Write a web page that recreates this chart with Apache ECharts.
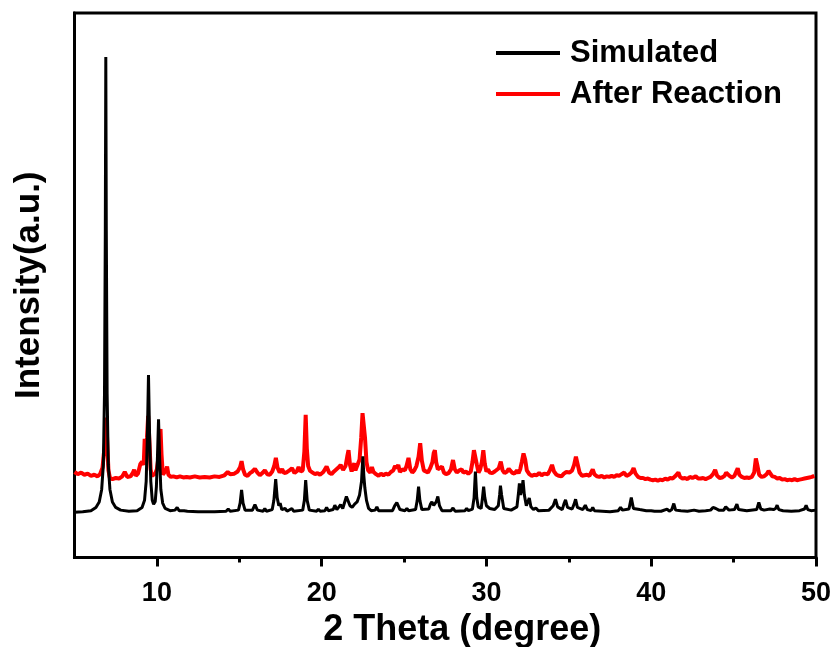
<!DOCTYPE html>
<html><head><meta charset="utf-8">
<script src="https://cdn.jsdelivr.net/npm/echarts@6/dist/echarts.min.js"></script>
<style>html,body{margin:0;padding:0;background:#fff}#c{width:837px;height:647px}</style>
</head><body><div id="c"></div>
<script>
// ---- data (2θ, intensity a.u.) ----
const xTickLabels = [10, 20, 30, 40, 50];
const xMinorTicks = [15, 25, 35, 45];
const seriesNames = ['Simulated', 'After Reaction'];

const simulated = [
[5.0,8.3],[5.5,8.4],[6.0,8.6],[6.3,9.2],[6.5,10.2],[6.65,12.5],[6.75,17],[6.82,30],[6.87,60],[6.9,91.9],[6.93,60],[6.98,30],[7.05,17],[7.15,12.5],[7.3,10.2],[7.5,9.2],[7.8,8.7],[8.3,8.5],[8.8,8.6],[9.1,9.2],[9.25,10.5],[9.35,14],[9.42,22],[9.49,33.5],[9.56,22],[9.63,14],[9.72,10.5],[9.8,9.8],[9.9,10.3],[9.97,13],[10.03,18],[10.1,25.4],[10.17,18],[10.24,12.5],[10.35,10],[10.5,9.0],[10.8,8.6],[11.1,8.7],[11.23,9.2],[11.35,8.6],[11.65,8.6],[11.75,8.8],[11.85,8.5],[12.5,8.4],[13.5,8.4],[14.2,8.5],[14.33,8.9],[14.45,8.5],[14.95,8.7],[15.05,10],[15.14,12.4],[15.23,10],[15.35,8.7],[15.8,8.7],[15.95,9.7],[16.1,8.7],[16.45,8.5],[16.55,9.0],[16.65,8.5],[17.0,8.8],[17.1,10.5],[17.21,14.4],[17.3,11],[17.4,9.5],[17.48,10],[17.58,8.8],[17.78,9.0],[17.9,8.5],[18.19,9.0],[18.3,8.5],[18.85,8.7],[18.95,10.5],[19.03,14.2],[19.12,10.5],[19.25,8.7],[19.7,8.5],[19.8,8.9],[19.9,8.5],[20.2,8.6],[20.3,9.2],[20.4,8.6],[20.7,8.8],[20.8,9.6],[20.92,8.8],[21.05,9.3],[21.15,9.7],[21.28,9.0],[21.4,10.2],[21.5,11.2],[21.62,11.0],[21.72,9.5],[21.85,9.2],[22.0,9.8],[22.15,10.2],[22.3,11.5],[22.42,14],[22.5,18.6],[22.56,15],[22.62,12.8],[22.72,10.5],[22.85,9.0],[23.0,8.6],[23.25,8.7],[23.35,9.3],[23.45,8.6],[24.3,8.6],[24.45,9.6],[24.56,10.1],[24.65,9.8],[24.75,8.8],[25.05,8.6],[25.17,9.0],[25.28,8.6],[25.7,8.8],[25.8,10.5],[25.88,13.0],[25.96,10.5],[26.08,8.8],[26.5,8.9],[26.6,9.8],[26.69,10.2],[26.8,9.6],[26.95,10.2],[27.05,11.2],[27.15,9.5],[27.3,8.6],[27.85,8.6],[27.97,9.1],[28.1,8.5],[28.7,8.6],[28.8,9.0],[28.9,8.6],[29.15,8.9],[29.25,11],[29.33,15.8],[29.41,11],[29.5,9.3],[29.68,9.0],[29.76,11],[29.83,13.0],[29.9,11],[30.0,9.5],[30.1,9.8],[30.2,9.0],[30.5,8.8],[30.72,9.5],[30.8,11.5],[30.85,13.2],[30.92,11.5],[31.05,9.0],[31.5,8.7],[31.85,9.3],[31.95,12],[32.0,13.6],[32.07,11.5],[32.15,12.5],[32.22,14.2],[32.3,11.5],[32.42,9.5],[32.5,9.8],[32.6,10.9],[32.7,9.3],[32.85,8.8],[33.0,9.1],[33.15,8.6],[33.8,8.7],[34.05,9.5],[34.19,10.7],[34.32,9.3],[34.6,8.8],[34.7,9.8],[34.8,10.6],[34.92,9.2],[35.2,8.9],[35.32,9.8],[35.41,10.7],[35.52,9.2],[35.85,8.8],[36.0,9.6],[36.12,8.8],[36.35,8.6],[36.45,9.2],[36.55,8.6],[37.5,8.4],[38.0,8.6],[38.14,9.2],[38.25,8.7],[38.65,8.9],[38.79,11.0],[38.92,9.0],[39.3,8.8],[39.4,8.5],[39.7,8.6],[40.0,8.6],[40.09,8.9],[40.2,8.5],[40.6,8.5],[40.96,8.9],[41.1,8.5],[41.25,8.8],[41.37,9.9],[41.48,8.7],[41.8,8.6],[42.2,8.5],[42.6,8.7],[42.9,8.5],[43.3,8.6],[43.6,8.7],[43.75,9.2],[43.83,9.5],[43.92,9.0],[44.0,9.2],[44.1,8.7],[44.4,8.7],[44.52,9.3],[44.62,9.1],[44.72,8.7],[45.05,8.8],[45.2,9.8],[45.3,8.8],[45.8,8.6],[46.4,8.8],[46.53,10.1],[46.65,8.9],[46.85,8.7],[47.2,8.9],[47.3,9.2],[47.42,8.8],[47.55,9.0],[47.64,9.6],[47.74,8.8],[48.0,8.6],[48.5,8.5],[49.0,8.6],[49.3,8.9],[49.4,9.6],[49.5,8.8],[49.7,8.6],[50.0,8.7]
];

const afterReaction = [
[5.0,15.7],[5.2,15.3],[5.4,15.6],[5.6,15.2],[5.8,15.4],[6.0,15.0],[6.2,15.2],[6.4,14.9],[6.55,15.3],[6.7,16.5],[6.78,19.0],[6.85,21],[6.93,25.7],[7.0,20],[7.06,16],[7.15,14.6],[7.3,14.4],[7.5,14.6],[7.7,14.5],[7.9,14.9],[8.05,15.7],[8.2,14.8],[8.4,14.9],[8.55,15.6],[8.62,16.1],[8.72,15.0],[8.85,15.4],[9.0,17.2],[9.1,17.6],[9.2,17.0],[9.26,21.8],[9.32,19],[9.4,22],[9.47,26.0],[9.55,21],[9.62,16.2],[9.7,15.0],[9.8,14.7],[9.9,15.4],[10.0,16.2],[10.1,18.5],[10.16,21.5],[10.22,23.6],[10.28,19],[10.36,15.2],[10.45,15.6],[10.55,16.0],[10.62,16.7],[10.7,15.2],[10.85,14.8],[11.0,14.9],[11.2,14.7],[11.4,14.9],[11.6,14.7],[11.8,14.8],[12.0,14.7],[12.3,14.9],[12.6,14.7],[12.9,14.8],[13.2,14.7],[13.5,14.9],[13.8,14.8],[14.1,15.1],[14.3,15.7],[14.45,15.3],[14.7,15.4],[14.9,15.8],[15.05,16.6],[15.14,17.7],[15.23,16.2],[15.35,15.2],[15.5,15.0],[15.65,15.5],[15.8,15.8],[15.95,16.3],[16.1,15.6],[16.25,15.1],[16.4,15.5],[16.55,16.0],[16.7,15.3],[16.85,15.2],[17.0,15.8],[17.12,16.8],[17.22,18.3],[17.32,16.5],[17.45,15.6],[17.6,16.2],[17.72,15.5],[17.85,15.6],[18.0,15.9],[18.2,16.4],[18.35,15.5],[18.5,15.9],[18.6,16.6],[18.72,15.8],[18.85,16.0],[18.95,19.5],[19.03,26.2],[19.1,20],[19.18,16.8],[19.3,15.9],[19.45,15.6],[19.6,15.3],[19.75,15.5],[19.9,15.2],[20.1,15.7],[20.3,16.7],[20.45,15.6],[20.6,15.3],[20.75,15.8],[20.9,16.2],[21.05,16.6],[21.15,17.0],[21.3,16.1],[21.45,16.8],[21.55,18.5],[21.63,19.7],[21.72,17.0],[21.82,15.8],[21.92,16.9],[21.98,17.3],[22.05,16.0],[22.15,16.2],[22.3,18],[22.4,22],[22.48,26.5],[22.56,26.7],[22.63,22],[22.72,17.5],[22.82,16.0],[22.95,15.6],[23.05,16.6],[23.15,15.7],[23.3,15.3],[23.45,15.0],[23.6,15.4],[23.75,15.1],[23.9,15.4],[24.05,15.2],[24.2,15.7],[24.35,16.0],[24.45,16.8],[24.55,16.4],[24.65,17.0],[24.75,15.7],[24.9,16.2],[25.05,16.0],[25.15,16.8],[25.27,18.3],[25.38,16.2],[25.5,15.6],[25.62,16.0],[25.75,16.8],[25.88,18.5],[25.98,21.0],[26.08,17.8],[26.2,16.0],[26.32,16.2],[26.45,15.6],[26.6,16.5],[26.72,17.5],[26.8,19.2],[26.87,19.7],[26.95,17.5],[27.05,16.2],[27.15,16.0],[27.3,16.7],[27.42,15.6],[27.55,15.3],[27.7,15.5],[27.85,16.2],[27.97,17.9],[28.08,16.2],[28.2,15.6],[28.35,16.0],[28.5,16.2],[28.6,15.6],[28.75,15.8],[28.9,15.4],[29.05,15.8],[29.15,17.5],[29.24,19.7],[29.33,19.5],[29.42,17.0],[29.52,15.6],[29.62,16.2],[29.72,17.5],[29.81,19.7],[29.9,17.2],[30.0,15.8],[30.1,16.2],[30.2,15.6],[30.35,15.5],[30.5,15.8],[30.62,15.6],[30.75,16.4],[30.87,17.6],[30.98,16.0],[31.1,15.5],[31.25,15.8],[31.35,16.3],[31.45,16.3],[31.55,15.6],[31.7,15.4],[31.85,16.0],[31.95,15.5],[32.05,16.2],[32.15,17.6],[32.25,19.1],[32.35,18.0],[32.45,16.0],[32.6,15.3],[32.75,15.0],[32.9,15.2],[33.05,15.1],[33.2,15.5],[33.35,15.1],[33.5,15.4],[33.6,15.7],[33.72,15.3],[33.85,16.0],[33.98,17.0],[34.1,15.8],[34.25,15.2],[34.4,15.0],[34.55,14.9],[34.7,15.4],[34.85,15.7],[34.95,15.9],[35.05,15.6],[35.2,16.0],[35.32,17.0],[35.43,18.5],[35.53,17.2],[35.65,15.6],[35.8,15.0],[35.95,15.1],[36.1,15.2],[36.25,15.0],[36.35,15.6],[36.45,16.2],[36.55,15.3],[36.7,14.9],[36.85,14.8],[37.0,15.0],[37.15,14.7],[37.3,14.9],[37.45,14.8],[37.6,15.0],[37.75,14.8],[37.9,15.1],[38.05,15.0],[38.2,15.3],[38.36,15.6],[38.5,15.0],[38.65,15.2],[38.8,15.6],[38.93,16.4],[39.05,15.4],[39.2,14.8],[39.35,14.6],[39.5,14.6],[39.65,14.4],[39.8,14.5],[39.95,14.3],[40.1,14.2],[40.25,14.3],[40.4,14.1],[40.55,14.3],[40.7,14.2],[40.85,14.5],[41.0,14.3],[41.15,14.6],[41.3,14.5],[41.45,14.9],[41.55,15.2],[41.65,15.6],[41.75,14.8],[41.9,14.5],[42.05,14.6],[42.2,14.4],[42.35,14.8],[42.5,14.6],[42.7,14.9],[42.85,14.5],[43.0,14.5],[43.15,14.6],[43.3,14.4],[43.45,14.6],[43.6,14.8],[43.75,15.3],[43.88,16.1],[44.0,15.0],[44.15,14.6],[44.3,14.7],[44.45,15.0],[44.55,15.6],[44.65,15.9],[44.75,15.0],[44.9,14.7],[45.05,15.0],[45.15,15.7],[45.25,16.4],[45.35,15.2],[45.5,14.8],[45.65,14.6],[45.8,14.7],[45.95,14.6],[46.1,14.8],[46.25,15.6],[46.35,18.2],[46.45,16.8],[46.55,15.2],[46.7,14.8],[46.85,14.9],[47.0,15.3],[47.12,15.9],[47.22,15.6],[47.35,14.9],[47.5,14.8],[47.65,14.5],[47.8,14.6],[47.95,14.3],[48.1,14.4],[48.25,14.2],[48.4,14.3],[48.55,14.2],[48.7,14.4],[48.85,14.2],[49.0,14.3],[49.15,14.4],[49.3,14.5],[49.45,14.6],[49.6,14.7],[49.75,14.8],[49.9,15.0]
];

const FONT = '"Liberation Sans", Arial, sans-serif';
const chart = echarts.init(document.getElementById('c'), null, {renderer: 'canvas'});
chart.setOption({
  animation: false,
  backgroundColor: '#fff',
  grid: {left: 74.5, right: 21, top: 13, bottom: 89.5, show: true, borderColor: '#000', borderWidth: 3,
         containLabel: false, outerBoundsMode: 'none'},
  legend: {
    data: seriesNames, orient: 'vertical', left: 496, top: 36, padding: 0,
    icon: 'rect', itemWidth: 64, itemHeight: 4, itemGap: 7,
    textStyle: {fontFamily: FONT, fontWeight: 'bold', fontSize: 31, lineHeight: 34, color: '#000', padding: [0,0,0,5]}
  },
  xAxis: [{
    type: 'value', min: 5, max: 50,
    name: '2 Theta (degree)', nameLocation: 'middle', nameGap: 49,
    nameTextStyle: {fontFamily: FONT, fontWeight: 'bold', fontSize: 36, color: '#000', padding: [0,0,0,34]},
    axisLine: {show: true, lineStyle: {color: '#000', width: 3}},
    axisTick: {show: true, inside: false, length: 9, lineStyle: {color: '#000', width: 3}, customValues: xTickLabels},
    axisLabel: {show: true, customValues: xTickLabels, margin: 23, fontFamily: FONT, fontWeight: 'bold', fontSize: 27, color: '#000'},
    splitLine: {show: false}
  }, {
    type: 'value', min: 5, max: 50, position: 'bottom', gridIndex: 0,
    axisLine: {show: false},
    axisTick: {show: true, length: 5, lineStyle: {color: '#000', width: 3}, customValues: xMinorTicks},
    axisLabel: {show: false},
    splitLine: {show: false}
  }],
  yAxis: {
    type: 'value', min: 0, max: 100,
    name: 'Intensity(a.u.)', nameLocation: 'middle', nameGap: 28,
    nameTextStyle: {fontFamily: FONT, fontWeight: 'bold', fontSize: 35, color: '#000'},
    axisLine: {show: true, lineStyle: {color: '#000', width: 3}},
    axisTick: {show: false}, axisLabel: {show: false}, splitLine: {show: false}
  },
  series: [
    {name: 'After Reaction', type: 'line', data: afterReaction, symbol: 'none', color: '#ff0000',
     lineStyle: {color: '#ff0000', width: 4}, z: 2},
    {name: 'Simulated', type: 'line', data: simulated, symbol: 'none', color: '#000000',
     lineStyle: {color: '#000000', width: 3}, z: 3}
  ]
});
</script></body></html>
